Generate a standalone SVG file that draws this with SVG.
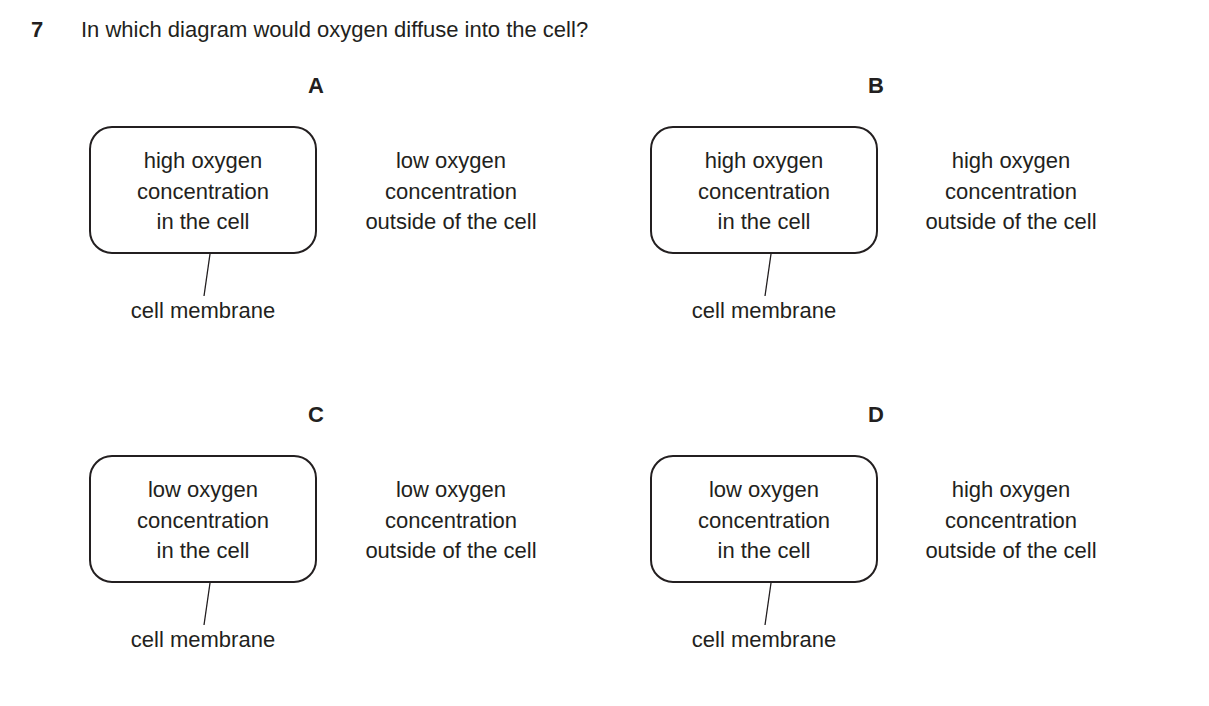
<svg xmlns="http://www.w3.org/2000/svg" width="1209" height="706" viewBox="0 0 1209 706">
<style>
text{font-family:"Liberation Sans",Arial,sans-serif;font-size:22px;fill:#231f20}
.c{text-anchor:middle}
.b{font-weight:bold}
.box{fill:none;stroke:#231f20;stroke-width:2}
.ln{stroke:#231f20;stroke-width:1.3}
</style>
<rect width="1209" height="706" fill="#fff"/>
<text x="31" y="37" class="b">7</text>
<text x="81" y="37">In which diagram would oxygen diffuse into the cell?</text>
<g id="A">
<text x="316" y="93" class="c b">A</text>
<rect class="box" x="90" y="127" width="226" height="126" rx="22"/>
<text class="c" x="203" y="168">high oxygen</text><text class="c" x="203" y="199">concentration</text><text class="c" x="203" y="229">in the cell</text>
<text class="c" x="451" y="168">low oxygen</text><text class="c" x="451" y="199">concentration</text><text class="c" x="451" y="229">outside of the cell</text>
<text class="c" x="203" y="318">cell membrane</text>
</g>
<g id="B">
<text x="876" y="93" class="c b">B</text>
<rect class="box" x="651" y="127" width="226" height="126" rx="22"/>
<text class="c" x="764" y="168">high oxygen</text><text class="c" x="764" y="199">concentration</text><text class="c" x="764" y="229">in the cell</text>
<text class="c" x="1011" y="168">high oxygen</text><text class="c" x="1011" y="199">concentration</text><text class="c" x="1011" y="229">outside of the cell</text>
<text class="c" x="764" y="318">cell membrane</text>
</g>
<g id="C">
<text x="316" y="422" class="c b">C</text>
<rect class="box" x="90" y="456" width="226" height="126" rx="22"/>
<text class="c" x="203" y="497">low oxygen</text><text class="c" x="203" y="528">concentration</text><text class="c" x="203" y="558">in the cell</text>
<text class="c" x="451" y="497">low oxygen</text><text class="c" x="451" y="528">concentration</text><text class="c" x="451" y="558">outside of the cell</text>
<text class="c" x="203" y="647">cell membrane</text>
</g>
<g id="D">
<text x="876" y="422" class="c b">D</text>
<rect class="box" x="651" y="456" width="226" height="126" rx="22"/>
<text class="c" x="764" y="497">low oxygen</text><text class="c" x="764" y="528">concentration</text><text class="c" x="764" y="558">in the cell</text>
<text class="c" x="1011" y="497">high oxygen</text><text class="c" x="1011" y="528">concentration</text><text class="c" x="1011" y="558">outside of the cell</text>
<text class="c" x="764" y="647">cell membrane</text>
</g>
<g id="connectors">
<line class="ln" x1="210" y1="254" x2="204" y2="296"/>
<line class="ln" x1="771" y1="254" x2="765" y2="296"/>
<line class="ln" x1="210" y1="583" x2="204" y2="625"/>
<line class="ln" x1="771" y1="583" x2="765" y2="625"/>
</g>
</svg>
